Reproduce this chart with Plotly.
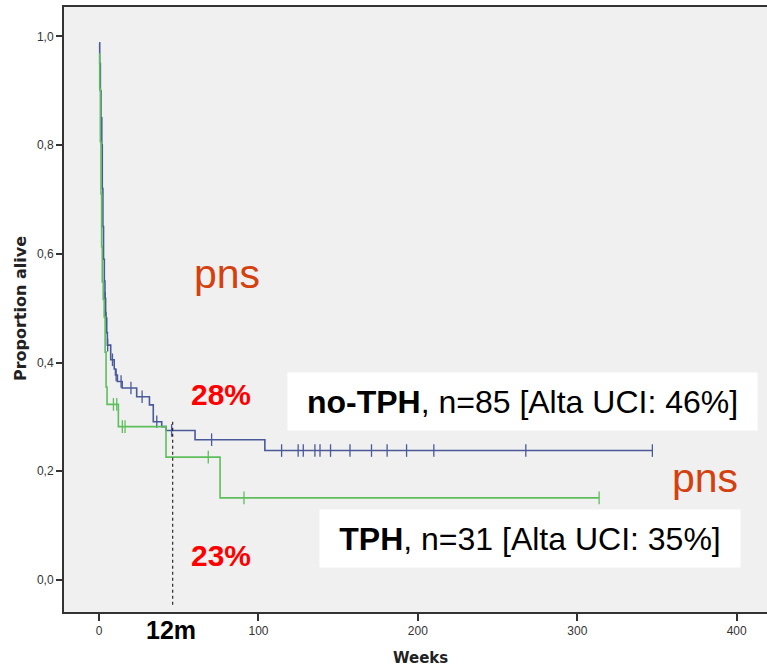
import numpy as np
import plotly.graph_objects as go

# Kaplan-Meier survival, no-TPH group (n=85): step times (weeks) and survival after each step
notph_times = [0, 0.4, 0.8, 1.2, 1.7, 2.0, 2.4, 2.8, 3.3, 3.7, 4.1, 4.8, 5.2, 7.3, 9.5,
               10.3, 11.5, 14.5, 23.6, 31.6, 34.0, 39.3, 42.0, 60.2, 104.0]
notph_surv = [0.988, 0.95, 0.90, 0.85, 0.80, 0.72, 0.65, 0.59, 0.55, 0.518, 0.482, 0.455,
              0.432, 0.405, 0.388, 0.377, 0.365, 0.353, 0.337, 0.322, 0.291, 0.282, 0.275,
              0.258, 0.238]
notph_censored = [3.9, 4.4, 5.4, 8.4, 10.7, 13.8, 20.0, 27.0, 36.2, 45.5, 70.6, 114.5, 124.9,
                  128.1, 135.4, 138.6, 145.2, 157.4, 170.9, 180.7, 192.9, 210.0, 267.7, 347.1]

# TPH group (n=31)
tph_times = [0, 0.4, 0.8, 1.2, 1.6, 2.0, 2.6, 3.2, 3.8, 4.4, 5.0, 12.1, 42.0, 75.9]
tph_surv = [0.968, 0.903, 0.806, 0.710, 0.613, 0.548, 0.516, 0.484, 0.419, 0.355, 0.323,
            0.282, 0.226, 0.151]
tph_censored = [9.0, 11.1, 14.6, 16.3, 68.5, 90.9, 313.7]

x_ticks = [0, 100, 200, 300, 400]
y_ticks = [0.0, 0.2, 0.4, 0.6, 0.8, 1.0]
y_ticklabels = ["0,0", "0,2", "0,4", "0,6", "0,8", "1,0"]
mark_week = 46.2          # 12-month reference line
mark_top = 0.291

BLUE = "#4a5a98"
GREEN = "#5cbf5c"
ACCENT = "#d4410f"

W, H = 767, 669
L, T, R, B = 64, 7, 767, 612   # plot area in pixels


def px(x):
    return (x - L) / (R - L)


def py(y):
    return (B - y) / (B - T)


def surv_at(times, surv, t):
    idx = np.searchsorted(np.asarray(times), np.asarray(t), side="right") - 1
    return np.asarray(surv)[idx]


fig = go.Figure()
for times, surv, cens, color, name in [
    (notph_times, notph_surv, notph_censored, BLUE, "no-TPH"),
    (tph_times, tph_surv, tph_censored, GREEN, "TPH"),
]:
    fig.add_trace(go.Scatter(
        x=list(times) + [max(cens)], y=list(surv) + [surv[-1]],
        mode="lines", line=dict(color=color, width=1.6, shape="hv"),
        name=name, showlegend=False, hoverinfo="skip"))
    fig.add_trace(go.Scatter(
        x=cens, y=surv_at(times, surv, cens), mode="markers",
        marker=dict(symbol="line-ns", size=9, line=dict(color=color, width=1.3)),
        showlegend=False, hoverinfo="skip"))

fig.add_shape(type="line", xref="x", yref="y", x0=mark_week, x1=mark_week,
              y0=mark_top, y1=-0.048, line=dict(color="black", width=1, dash="dot"))

font = "Arial, Liberation Sans, sans-serif"
ann = []


def text(x, y, s, size, color, bold=False, **kw):
    ann.append(dict(xref="paper", yref="paper", x=px(x), y=py(y), text=f"<b>{s}</b>" if bold else s,
                    showarrow=False, xanchor="center", yanchor="middle",
                    font=dict(family=kw.pop("family", font), size=size, color=color), **kw))


text(227, 274, "pns", 41, ACCENT)
text(705, 478, "pns", 41, ACCENT)
text(221, 395, "28%", 30, "#ff0000", bold=True)
text(221, 555, "23%", 30, "#ff0000", bold=True)
text(171, 630, "12m", 25, "black", bold=True)
text(522.8, 401, "<b>no-TPH</b>, n=85 [Alta UCI: 46%]", 32, "black",
     bgcolor="white", width=469, height=57, borderpad=0)
text(530, 538, "<b>TPH</b>, n=31 [Alta UCI: 35%]", 32, "black",
     bgcolor="white", width=420, height=57, borderpad=0)
text(421, 658, "Weeks", 15, "#222", bold=True, family="DejaVu Sans, sans-serif")
text(20, 309, "Proportion alive", 16, "#222", bold=True, family="DejaVu Sans, sans-serif",
     textangle=-90)

fig.update_layout(
    width=W, height=H,
    margin=dict(l=L, r=W - R, t=T, b=H - B),
    paper_bgcolor="white", plot_bgcolor="#f0f0f0",
    annotations=ann,
    xaxis=dict(range=[-22, 419], tickvals=x_ticks, ticks="outside", ticklen=7,
               tickwidth=1.5, tickcolor="#333", showline=True, linecolor="#333",
               linewidth=2, mirror=True, showgrid=False, zeroline=False,
               tickfont=dict(family=font, size=12, color="#333")),
    yaxis=dict(range=[-0.059, 1.054], tickvals=y_ticks, ticktext=y_ticklabels,
               ticks="outside", ticklen=6, tickwidth=1.5, tickcolor="#333",
               showline=True, linecolor="#333", linewidth=2, showgrid=False,
               zeroline=False, tickfont=dict(family=font, size=12, color="#333")),
)

fig.write_html("out.html")
